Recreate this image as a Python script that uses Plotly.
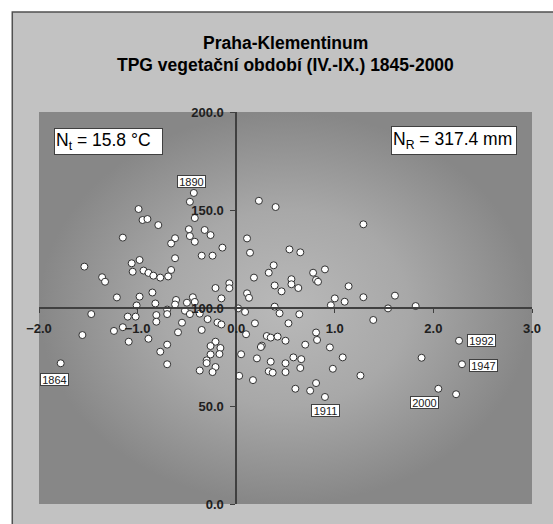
import plotly.graph_objects as go

# ---- data (temperature anomaly [°C], precipitation [% of normal]) ----
temp_anom = [
    -0.43, -0.47, -0.42, -0.99, -0.95, -0.90, -0.79, -1.15, -0.48, -0.47,
    -0.42, -0.62, -0.66, -0.32, -0.26, -0.14, -0.35, -0.24, -0.62, -0.98,
    -1.06, -1.05, -0.94, -0.89, -0.84, -0.77, -0.69, -0.66, -1.54, -1.36,
    -1.33, -1.21, -0.98, -0.85, -0.61, -0.44, -0.21, -0.07, -0.07, -0.15,
    -1.01, -0.82, -0.50, -0.42, -0.62, -1.47, -1.56, -1.78, -1.10, -1.02,
    -1.15, -1.24, -1.09, -0.89, -0.81, -0.81, -0.70, -0.70, -0.55, -0.59,
    -0.52, -0.47, -0.37, -0.29, -0.35, -0.19, -0.15, -0.70, -0.77, -0.70,
    -0.21, -0.26, -0.16, -0.26, -0.17, -0.30, -0.30, -0.21, -0.24, -0.37,
    0.02, 0.23, 0.40, 1.29, 0.11, 0.14, 0.54, 0.65, 0.38, 0.33,
    0.18, 0.78, 0.90, 0.56, 0.56, 0.81, 0.83, 0.39, 0.46, 0.63,
    1.14, 0.11, 0.13, 1.00, 1.10, 0.96, 1.29, 1.61, 1.54, 1.82,
    0.39, 0.09, 0.44, 0.64, 1.39, 0.19, 0.53, 0.10, 0.31, 0.35,
    0.42, 0.50, 0.26, 0.25, 0.70, 0.81, 0.82, 0.95, 0.05, 0.21,
    0.35, 0.58, 0.66, 1.08, 0.50, 0.65, 0.98, 0.33, 0.37, 0.50,
    0.03, 0.17, 1.26, 0.60, 0.75, 0.81, 0.90, 1.88, 2.26, 2.29,
    2.05, 2.23,
]
precip_pct = [
    158.7, 154.2, 145.9, 150.5, 144.9, 145.4, 142.3, 135.9, 140.2, 136.7,
    133.8, 135.6, 132.9, 139.8, 137.2, 130.8, 126.7, 126.7, 125.4, 124.5,
    122.8, 118.5, 119.1, 117.9, 116.5, 115.5, 116.1, 119.4, 121.1, 115.7,
    113.4, 105.4, 105.8, 107.9, 104.1, 105.5, 110.2, 112.6, 110.1, 104.9,
    101.3, 102.3, 102.7, 103.1, 101.8, 96.9, 86.2, 71.8, 95.6, 95.6,
    90.2, 88.3, 82.8, 84.3, 96.4, 93.0, 99.2, 96.9, 92.5, 87.6,
    98.6, 96.9, 97.1, 94.3, 88.8, 92.6, 91.6, 81.3, 77.7, 71.3,
    82.8, 80.6, 79.6, 76.3, 76.5, 73.3, 71.9, 69.9, 67.3, 68.1,
    99.8, 154.7, 151.5, 142.7, 135.5, 128.2, 129.9, 128.4, 121.8, 118.0,
    115.5, 118.0, 119.7, 114.7, 112.1, 114.3, 113.4, 111.5, 108.5, 110.2,
    111.1, 107.5, 105.2, 104.9, 103.2, 101.4, 105.5, 106.3, 99.8, 101.0,
    100.7, 98.0, 97.3, 96.8, 93.9, 92.2, 92.2, 86.6, 85.7, 84.9,
    85.4, 83.3, 80.8, 80.1, 81.3, 87.5, 83.7, 79.9, 76.4, 74.3,
    72.6, 74.8, 73.9, 74.8, 71.8, 69.4, 69.0, 67.7, 67.0, 67.3,
    65.4, 63.2, 65.5, 58.8, 57.8, 61.7, 54.6, 74.6, 83.3, 71.3,
    58.8, 56.0,
]

label_years = ["1890", "1864", "1911", "2000", "1992", "1947"]
label_temp = [-0.43, -1.78, 0.90, 2.05, 2.26, 2.29]
label_precip = [158.7, 71.8, 54.6, 58.8, 83.3, 71.3]

x_range = [-2, 3]
y_range = [0, 200]
x_ticks = [-2, -1, 0, 1, 2, 3]
y_ticks = [0, 50, 100, 150, 200]

title_lines = ["Praha-Klementinum", "TPG vegetační období (IV.-IX.) 1845-2000"]
note_t = "N<sub>t</sub> = 15.8 °C"
note_r = "N<sub>R</sub> = 317.4 mm"

# ---- layout geometry (pixels) ----
W, H = 553, 524
L, R, T, B = 39, 537, 112, 504
PW, PH = R - L, B - T


def px_x(p):
    return (p - L) / PW


def px_y(p):
    return (B - p) / PH


FONT = "Liberation Sans, Arial, sans-serif"

fig = go.Figure()

# gradient plot background
fig.add_trace(go.Scatter(
    x=[x_range[0], x_range[1], x_range[1], x_range[0], x_range[0]],
    y=[y_range[0], y_range[0], y_range[1], y_range[1], y_range[0]],
    mode="none", fill="toself",
    fillgradient=dict(type="radial",
                      colorscale=[[0, "#b9b9b9"], [0.5, "#a8a8a8"], [1, "#878787"]]),
    hoverinfo="skip", showlegend=False,
))

fig.add_trace(go.Scatter(
    x=temp_anom, y=precip_pct, mode="markers",
    marker=dict(symbol="circle", size=7, color="white",
                line=dict(color="#303030", width=1)),
    showlegend=False, cliponaxis=False,
))

# year labels
offsets = {"1890": (-2, 11.5), "1864": (-6, -16), "1911": (1, -14),
           "2000": (-13.5, -14), "1992": (22, 0), "1947": (22, -1)}
for yr, xv, yv in zip(label_years, label_temp, label_precip):
    dx, dy = offsets[yr]
    fig.add_annotation(x=xv, y=yv, text=yr, showarrow=False,
                       xanchor="center", yanchor="middle",
                       xshift=dx, yshift=dy,
                       font=dict(family=FONT, size=11, color="#202020"),
                       bgcolor="white", bordercolor="#404040", borderwidth=1,
                       borderpad=0, width=27, height=11)

# text boxes
fig.add_annotation(xref="paper", yref="paper", x=px_x(109.5), y=px_y(141.5),
                   xanchor="center", yanchor="middle",
                   text=note_t, showarrow=False, align="left",
                   font=dict(family=FONT, size=17.5, color="black"),
                   bgcolor="white", bordercolor="#404040", borderwidth=1,
                   borderpad=1, width=105, height=23)
fig.add_annotation(xref="paper", yref="paper", x=px_x(458.7), y=px_y(140.5),
                   xanchor="center", yanchor="middle",
                   text=note_r, showarrow=False, align="left",
                   font=dict(family=FONT, size=17.5, color="black"),
                   bgcolor="white", bordercolor="#404040", borderwidth=1,
                   borderpad=1, width=122, height=25)

# titles
for txt, py in zip(title_lines, [43, 65]):
    fig.add_annotation(xref="paper", yref="paper", x=px_x(288), y=px_y(py),
                       text="<b>%s</b>" % txt, showarrow=False,
                       xanchor="center", yanchor="middle",
                       font=dict(family=FONT, size=17.5, color="black"))

# chart frame
fig.add_shape(type="rect", xref="paper", yref="paper", layer="below",
              x0=px_x(12), x1=px_x(W + 20), y0=px_y(H + 20), y1=px_y(12),
              fillcolor="#c2c2c2", line=dict(color="#505050", width=1.5))

tick_font = dict(family=FONT, size=13, color="#202020", weight="bold")
fig.update_layout(
    width=W, height=H, autosize=False,
    margin=dict(l=L, r=W - R, t=T, b=H - B, pad=0),
    paper_bgcolor="white", plot_bgcolor="#a0a0a0",
    xaxis=dict(range=x_range, tickvals=x_ticks, tickformat=".1f",
               anchor="free", position=px_y(308),
               showline=True, linecolor="#404040", linewidth=1.5,
               ticks="outside", ticklen=4, tickcolor="#404040",
               ticklabelstandoff=5,
               showgrid=False, zeroline=False, tickfont=tick_font),
    yaxis=dict(range=y_range, tickvals=y_ticks, tickformat=".1f",
               anchor="free", position=px_x(238.2),
               showline=True, linecolor="#404040", linewidth=1.5,
               ticks="outside", ticklen=5, tickcolor="#404040",
               ticklabelstandoff=4,
               showgrid=False, zeroline=False, tickfont=tick_font),
)

fig.write_html("out.html")
